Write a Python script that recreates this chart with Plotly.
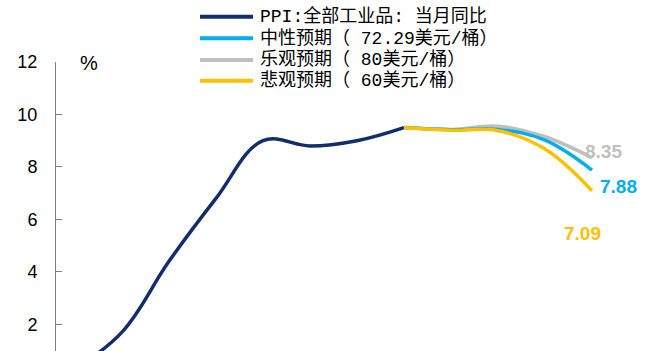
import plotly.graph_objects as go

# Data (2021 monthly, %)
ppi_months = [1, 2, 3, 4, 5, 6, 7, 8]
ppi_values = [0.3, 1.7, 4.4, 6.8, 9.0, 8.8, 9.0, 9.5]

fc_months = [8, 9, 10, 11, 12]
neutral = [9.5, 9.42, 9.43, 9.02, 7.88]
optimistic = [9.5, 9.43, 9.55, 9.15, 8.35]
pessimistic = [9.5, 9.4, 9.38, 8.68, 7.09]

names = ["PPI:全部工业品: 当月同比", "中性预期（ 72.29美元/桶）",
         "乐观预期（ 80美元/桶）", "悲观预期（ 60美元/桶）"]
colors = ["#112E6C", "#00AEEF", "#BFBFBF", "#FFC000"]

W, H = 654, 351
ML, MR, MT, MB = 56, 0, 62, 0
PW, PH = W - ML - MR, H - MT - MB


def px_to_paper(px, py):
    return (px - ML) / PW, (H - MB - py) / PH


fig = go.Figure()
series = [(ppi_months, ppi_values, 0), (fc_months, optimistic, 2),
          (fc_months, neutral, 1), (fc_months, pessimistic, 3)]
for xs, ys, i in series:
    fig.add_trace(go.Scatter(x=xs, y=ys, mode="lines", name=names[i], showlegend=False,
                             line=dict(color=colors[i], width=3.5, shape="spline", smoothing=1.1)))

# manual legend (px positions of the reference legend)
legend_rows = [16.7, 38.3, 60.0, 80.7]
for i, py in enumerate(legend_rows):
    x0, y0 = px_to_paper(200, py)
    x1, _ = px_to_paper(253, py)
    fig.add_shape(type="line", xref="paper", yref="paper", x0=x0, x1=x1, y0=y0, y1=y0,
                  line=dict(color=colors[i], width=4))
    tx, ty = px_to_paper(258, py)
    fig.add_annotation(x=tx, y=ty, xref="paper", yref="paper", text=names[i], showarrow=False,
                       xanchor="left", yanchor="middle",
                       font=dict(family="Liberation Mono, Noto Sans CJK SC, monospace", size=18,
                                 color="#000000"))

label_font = "Liberation Sans, Arial, sans-serif"
end_labels = [
    (fc_months[-1], optimistic[-1], colors[2], 12, 6),
    (fc_months[-1], neutral[-1], colors[1], 27, -16),
    (fc_months[-1], pessimistic[-1], colors[3], -9, -43),
]
for x, y, c, dx, dy in end_labels:
    fig.add_annotation(x=x, y=y, xref="x", yref="y", text=f"{y:.2f}", showarrow=False,
                       xshift=dx, yshift=dy, xanchor="center", yanchor="middle",
                       font=dict(family=label_font, size=19, color=c, weight="bold"))

px, py = px_to_paper(89, 63)
fig.add_annotation(x=px, y=py, xref="paper", yref="paper", text="%", showarrow=False,
                   xanchor="center", yanchor="middle",
                   font=dict(family=label_font, size=20, color="#000000"))

fig.update_layout(
    width=W, height=H,
    margin=dict(l=ML, r=MR, t=MT, b=MB),
    paper_bgcolor="white", plot_bgcolor="white",
    showlegend=False,
    xaxis=dict(range=[0.596, 13.32], visible=False),
    yaxis=dict(range=[0.98, 12], tickvals=[2, 4, 6, 8, 10, 12], showgrid=False,
               zeroline=False, showline=True, linecolor="#7F7F7F", linewidth=1,
               ticks="inside", ticklen=6, tickcolor="#7F7F7F",
               tickfont=dict(family=label_font, size=18, color="#000000"), ticklabelstandoff=14),
)
fig.write_html("out.html")
